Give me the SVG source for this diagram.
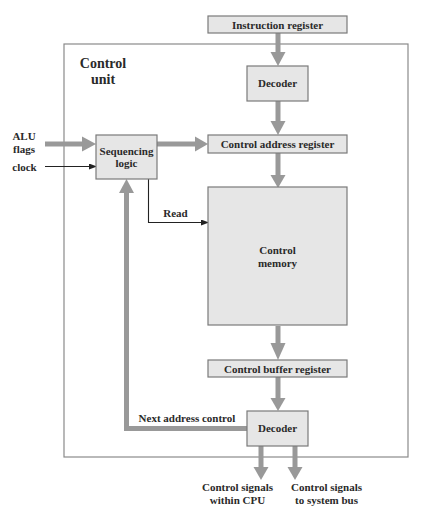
<svg xmlns="http://www.w3.org/2000/svg" width="427" height="531" viewBox="0 0 427 531">
<style>
.box{fill:#e6e6e6;stroke:#7a7a7a;stroke-width:1.2}
.frame{fill:none;stroke:#8a8a8a;stroke-width:1.2}
.t{font-family:"Liberation Serif","Times New Roman",serif;font-weight:bold;font-size:11px;fill:#2a2a2a;text-anchor:middle}
.big{font-size:14px}
.bus{stroke:#999;stroke-width:5;fill:none}
.head{fill:#999}
.thin{stroke:#222;stroke-width:1.1;fill:none}
</style>
<defs>
<marker id="ah" markerWidth="8" markerHeight="6" refX="7" refY="3" orient="auto" markerUnits="userSpaceOnUse">
<path d="M0,0 L8,3 L0,6 Z" fill="#222"/>
</marker>
</defs>
<rect width="427" height="531" fill="#fff"/>
<g id="control-unit">
<rect class="frame" x="64" y="44" width="344" height="413"/>
<text class="t big" x="103" y="68">Control</text>
<text class="t big" x="103" y="84">unit</text>
</g>
<g id="connectors">
<line class="bus" x1="278" y1="33" x2="278" y2="53"/>
<polygon class="head" points="270.5,52 285.5,52 278,66"/>
<line class="bus" x1="278" y1="101" x2="278" y2="122"/>
<polygon class="head" points="270.5,121 285.5,121 278,135"/>
<line class="bus" x1="278" y1="153" x2="278" y2="176"/>
<polygon class="head" points="270.5,175 285.5,175 278,188"/>
<line class="bus" x1="278" y1="326" x2="278" y2="344"/>
<polygon class="head" points="270.5,343 285.5,343 278,360"/>
<line class="bus" x1="278" y1="377" x2="278" y2="399"/>
<polygon class="head" points="270.5,398 285.5,398 278,411"/>
<line class="bus" x1="45" y1="144" x2="83" y2="144"/>
<polygon class="head" points="82,136.5 82,151.5 96,144"/>
<line class="bus" x1="157" y1="144" x2="196" y2="144"/>
<polygon class="head" points="195,136.5 195,151.5 208,144"/>
<line class="thin" x1="45" y1="166.5" x2="96" y2="166.5" marker-end="url(#ah)"/>
<polyline class="thin" points="148.5,179 148.5,222.5 208,222.5" marker-end="url(#ah)"/>
<polyline class="bus" points="247,428.5 126.5,428.5 126.5,192"/>
<polygon class="head" points="119,193 134,193 126.5,179"/>
<line class="bus" x1="261" y1="446" x2="261" y2="468"/>
<polygon class="head" points="253.5,467 268.5,467 261,480"/>
<line class="bus" x1="295" y1="446" x2="295" y2="468"/>
<polygon class="head" points="287.5,467 302.5,467 295,480"/>
</g>
<g id="instruction-register">
<rect class="box" x="208" y="16" width="139" height="17"/>
<text class="t" x="277.5" y="28.5">Instruction register</text>
</g>
<g id="decoder-1">
<rect class="box" x="247" y="66" width="61" height="35"/>
<text class="t" x="277.5" y="87">Decoder</text>
</g>
<g id="control-address-register">
<rect class="box" x="208" y="135" width="139" height="18"/>
<text class="t" x="277.5" y="148">Control address register</text>
</g>
<g id="sequencing-logic">
<rect class="box" x="96" y="135" width="61" height="44"/>
<text class="t" x="126.5" y="154.5">Sequencing</text>
<text class="t" x="126.5" y="167">logic</text>
</g>
<g id="control-memory">
<rect class="box" x="208" y="187" width="139" height="138"/>
<text class="t" x="277.5" y="254">Control</text>
<text class="t" x="277.5" y="266.5">memory</text>
</g>
<g id="control-buffer-register">
<rect class="box" x="208" y="360" width="139" height="17"/>
<text class="t" x="277.5" y="372.5">Control buffer register</text>
</g>
<g id="decoder-2">
<rect class="box" x="247" y="411" width="61" height="35"/>
<text class="t" x="277.5" y="432">Decoder</text>
</g>
<g id="labels">
<text class="t" x="24" y="140">ALU</text>
<text class="t" x="24" y="152.5">flags</text>
<text class="t" x="24.5" y="171">clock</text>
<text class="t" x="175.5" y="217">Read</text>
<text class="t" x="187" y="422">Next address control</text>
<text class="t" x="237.5" y="491">Control signals</text>
<text class="t" x="237.5" y="503.5">within CPU</text>
<text class="t" x="326.5" y="491">Control signals</text>
<text class="t" x="326.5" y="503.5">to system bus</text>
</g>
</svg>
